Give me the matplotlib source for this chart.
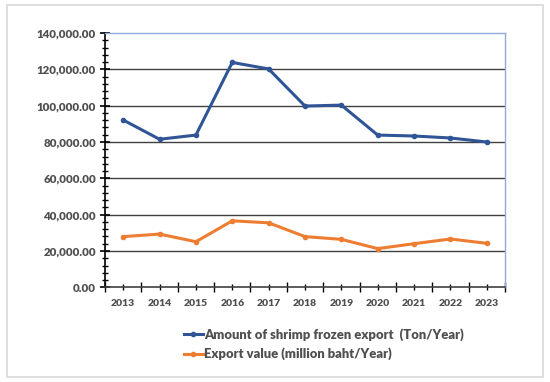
import matplotlib.pyplot as plt
from matplotlib.ticker import MultipleLocator, FuncFormatter, FixedLocator
from matplotlib.patches import FancyBboxPatch

years = ["2013", "2014", "2015", "2016", "2017", "2018", "2019", "2020", "2021", "2022", "2023"]
shrimp_tons = [92100, 81500, 83800, 123800, 120200, 99800, 100300, 83800, 83300, 82200, 80000]
export_value = [27900, 29300, 25100, 36600, 35500, 27900, 26400, 21300, 24000, 26600, 24200]
series_labels = ["Amount of shrimp frozen export  (Ton/Year)", "Export value (million baht/Year)"]

BLUE = "#2F5597"
ORANGE = "#ED7D31"
GRAY = "#505050"
WEIGHT = "heavy"
plt.rcParams["font.family"] = ["Lato", "DejaVu Sans"]

fig = plt.figure(figsize=(5.5, 3.82), dpi=100)
fig.patches.append(FancyBboxPatch((0.013, 0.013), 0.974, 0.974, boxstyle="square,pad=0",
                                  transform=fig.transFigure, fill=False,
                                  edgecolor="#D9D9D9", linewidth=1.2))
ax = fig.add_axes([105 / 550, 1 - 287.3 / 382, 400 / 550, 254.3 / 382])

x = list(range(len(years)))
l1, = ax.plot(x, shrimp_tons, color=BLUE, lw=2.2, marker="o", ms=3, label=series_labels[0])
l2, = ax.plot(x, export_value, color=ORANGE, lw=2.2, marker="o", ms=3, label=series_labels[1])

ax.set_xlim(-0.5, len(years) - 0.5)
ax.set_ylim(0, 140000)
ax.yaxis.set_major_locator(MultipleLocator(20000))
ax.yaxis.set_minor_locator(MultipleLocator(4000))
ax.yaxis.set_major_formatter(FuncFormatter(lambda v, p: f"{v:,.2f}"))
for v in range(20000, 140000, 20000):
    ax.axhline(v, color="#404040", lw=1, zorder=0)

ax.set_xticks(x)
ax.set_xticklabels(years)
ax.xaxis.set_minor_locator(FixedLocator([i + 0.5 for i in range(-1, len(years))]))

ax.tick_params(axis="y", which="major", direction="inout", length=7, width=1.2,
               colors="black", labelcolor=GRAY, labelsize=8.3, pad=3)
ax.tick_params(axis="y", which="minor", direction="inout", length=5, width=1, colors="black")
ax.tick_params(axis="x", which="major", direction="inout", length=5, width=1,
               colors="black", labelcolor=GRAY, labelsize=7.5, pad=6)
ax.tick_params(axis="x", which="minor", direction="inout", length=7, width=1, colors="black")
for lab in ax.get_yticklabels() + ax.get_xticklabels():
    lab.set_fontweight(WEIGHT)

ax.spines["left"].set_color("black")
ax.spines["left"].set_linewidth(1.2)
ax.spines["bottom"].set_color("#404040")
ax.spines["bottom"].set_linewidth(1.2)
for s in ["top", "right"]:
    ax.spines[s].set_color("#8FAADC")
    ax.spines[s].set_linewidth(1)

fig.legend(handles=[l1, l2], loc="upper left", bbox_to_anchor=(172 / 550, 1 - 316 / 382),
           frameon=False, handlelength=1.45, handletextpad=0.1, labelspacing=0.55,
           prop={"weight": WEIGHT, "size": 9.4}, labelcolor=GRAY)

fig.savefig("out.png", dpi=100)
